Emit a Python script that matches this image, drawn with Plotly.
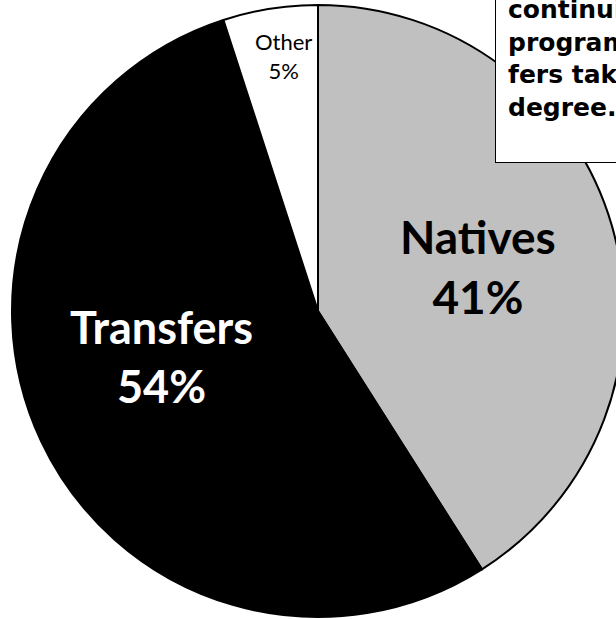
import plotly.graph_objects as go

labels = ["Natives", "Transfers", "Other"]
values = [41, 54, 5]
colors = ["#C0C0C0", "#000000", "#FFFFFF"]
note_lines = ["continuing in the", "program, while trans-", "fers take longer to their", "degree."]

W, H = 624, 619

fig = go.Figure(go.Pie(
    labels=labels,
    values=values,
    sort=False,
    direction="clockwise",
    rotation=0,
    marker=dict(colors=colors, line=dict(color="#000000", width=2)),
    textinfo="none",
    hoverinfo="label+percent",
    showlegend=False,
    domain=dict(x=[12 / W, 1], y=[2 / H, 614 / H]),
))

FONT = "Century Gothic, Lato, sans-serif"
BOX_FONT = "Century Gothic, DejaVu Sans, sans-serif"

def px(x):
    return x / W

def py(y):
    return 1 - y / H

label_pos = {"Natives": (478, 267, 46, "#000000", True),
             "Transfers": (161, 356, 45, "#FFFFFF", True),
             "Other": (283, 56, 22, "#000000", False)}

total = sum(values)
for lab, val in zip(labels, values):
    x, y, size, col, bold = label_pos[lab]
    txt = f"{lab}<br>{round(100 * val / total)}%"
    if bold:
        txt = f"<b>{lab}</b><br><b>{round(100 * val / total)}%</b>"
    fig.add_annotation(x=px(x), y=py(y), xref="paper", yref="paper",
                       text=txt, showarrow=False, xanchor="center", yanchor="middle",
                       font=dict(family=FONT, size=size, color=col))

fig.add_annotation(x=px(495), y=py(163), xref="paper", yref="paper",
                   text="<br>".join(f"<b>{l}</b>" for l in note_lines),
                   showarrow=False, xanchor="left", yanchor="bottom", align="left",
                   valign="top", width=220, height=155,
                   bgcolor="#FFFFFF", bordercolor="#000000", borderwidth=1, borderpad=12,
                   font=dict(family=BOX_FONT, size=25, color="#000000"))

fig.update_layout(width=W, height=H, margin=dict(l=0, r=0, t=0, b=0),
                  paper_bgcolor="#FFFFFF", plot_bgcolor="#FFFFFF")

fig.write_html("out.html", config={"displayModeBar": False},
               post_script="document.body.style.margin='0';document.body.style.overflow='hidden';document.documentElement.style.overflow='hidden';")
